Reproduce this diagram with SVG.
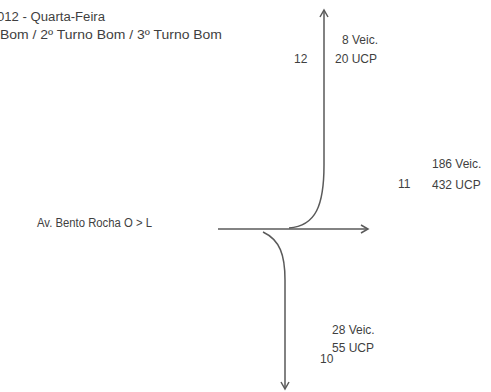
<svg xmlns="http://www.w3.org/2000/svg" width="491" height="392" viewBox="0 0 491 392">
<style>
text{font-family:"Liberation Sans","DejaVu Sans",sans-serif;fill:#3f3f3f;font-size:12px}
.ln{fill:none;stroke:#5a5a5a;stroke-width:1.5}
</style>
<defs>
<marker id="ah" markerWidth="10" markerHeight="10" refX="8" refY="5" orient="auto" markerUnits="userSpaceOnUse">
<path d="M1,1 L8,5 L1,9" fill="none" stroke="#5a5a5a" stroke-width="1.5"/>
</marker>
</defs>
<rect width="491" height="392" fill="#fff"/>
<g id="header">
<text x="-3" y="21" font-size="12" textLength="108" lengthAdjust="spacingAndGlyphs">012 - Quarta-Feira</text>
<text x="0" y="39" font-size="12" textLength="222" lengthAdjust="spacingAndGlyphs">Bom / 2º Turno Bom / 3º Turno Bom</text>
</g>
<g id="connectors">
<path class="ln" d="M218,229 L368,229" marker-end="url(#ah)"/>
<path class="ln" d="M289,228 C316,226 324,205 324,165 L324,10" marker-end="url(#ah)"/>
<path class="ln" d="M263,232 C280,240 285,255 285,280 L285,389" marker-end="url(#ah)"/>
</g>
<g id="origin">
<text x="37" y="227" textLength="115" lengthAdjust="spacingAndGlyphs">Av. Bento Rocha  O &gt; L</text>
</g>
<g id="n12">
<text x="294" y="63">12</text>
<text x="342" y="44">8 Veic.</text>
<text x="335" y="63">20 UCP</text>
</g>
<g id="n11">
<text x="398" y="188">11</text>
<text x="432" y="168">186 Veic.</text>
<text x="432" y="189">432 UCP</text>
</g>
<g id="n10">
<text x="332" y="334">28 Veic.</text>
<text x="332" y="352">55 UCP</text>
<text x="320" y="363">10</text>
</g>
</svg>
